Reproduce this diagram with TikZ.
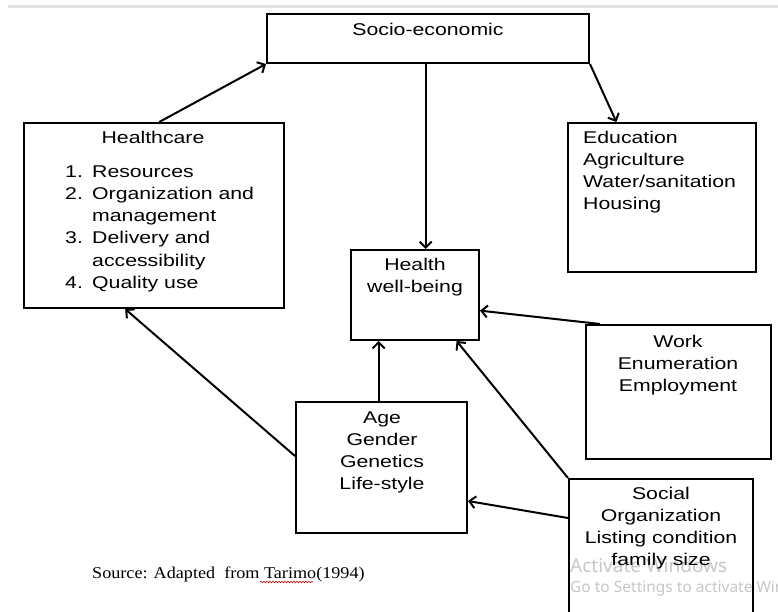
\documentclass[tikz,border=0pt]{standalone}
\usepackage{fontspec}
\setmainfont{Liberation Sans}[FakeStretch=1.25]
\newfontfamily\srcfont{Liberation Serif}[FakeStretch=1.1]
\newfontfamily\wmfont{Noto Sans}
\usetikzlibrary{arrows.meta,calc,fit,decorations.pathmorphing}
\begin{document}
\begin{tikzpicture}[x=1pt,y=-1pt,
  box/.style={draw=black, line width=2pt, inner sep=0pt},
  txt/.style={inner sep=0pt, text=black, font=\fontsize{17}{22.2}\selectfont},
  link/.style={line width=2pt, -{Straight Barb[length=6pt,width=12pt]}},
  wm/.style={inner sep=0pt, anchor=base west, text=black!22},
]
\clip (0,0) rectangle (778,612);
\fill[white] (0,0) rectangle (778,612);
\fill[black!11] (8,5) rectangle (778,8);

% boxes
\node[box, fit={(267,14) (589,63)}] (socio) {};
\node[box, fit={(24,123) (284,308)}] (hc) {};
\node[box, fit={(568,123) (756,272)}] (edu) {};
\node[box, fit={(351,250) (479,340)}] (health) {};
\node[box, fit={(296,402) (467,533)}] (age) {};
\node[box, fit={(586,325) (771,459)}] (work) {};
\node[box, fit={(569,479) (753,640)}] (social) {};

% box texts
\node[txt, anchor=north] (sociot) at (428,19.5) {\begin{tabular}{@{}c@{}}Socio-economic\end{tabular}};
\node[txt, anchor=north] (hct) at (153,127.5) {\begin{tabular}{@{}c@{}}Healthcare\end{tabular}};
\node[txt, anchor=north west] (hclist) at (65,161.5) {\begin{tabular}{@{}l@{}}
  \makebox[27pt][l]{1.}Resources\\
  \makebox[27pt][l]{2.}Organization and\\
  \hspace*{27pt}management\\
  \makebox[27pt][l]{3.}Delivery and\\
  \hspace*{27pt}accessibility\\
  \makebox[27pt][l]{4.}Quality use
\end{tabular}};
\node[txt, anchor=north west] (edut) at (583,127.5) {\begin{tabular}{@{}l@{}}Education\\Agriculture\\Water/sanitation\\Housing\end{tabular}};
\node[txt, anchor=north] (healtht) at (415,254.5) {\begin{tabular}{@{}c@{}}Health\\well-being\end{tabular}};
\node[txt, anchor=north] (aget) at (382,407.5) {\begin{tabular}{@{}c@{}}Age\\Gender\\Genetics\\Life-style\end{tabular}};
\node[txt, anchor=north] (workt) at (678,331.5) {\begin{tabular}{@{}c@{}}Work\\Enumeration\\Employment\end{tabular}};

% system watermark behind the last box text
\node[wm, font=\wmfont\fontsize{19}{22}\selectfont] (wm1) at (570,572) {Activate Windows};
\node[wm, font=\wmfont\fontsize{15.5}{18}\selectfont] (wm2) at (570,592) {Go to Settings to activate Windows.};

\node[txt, anchor=north] (socialt) at (661,483.5) {\begin{tabular}{@{}c@{}}Social\\Organization\\Listing condition\\family size\end{tabular}};

% connectors
\draw[link] ($(hc.north west)!0.52!(hc.north east)$) -- (socio.south west);
\coordinate (hin) at ($(health.north west)!0.582!(health.north east)$);
\draw[link] (hin |- socio.south) -- (hin);
\draw[link] (socio.south east) -- ($(edu.north west)!0.26!(edu.north east)$);
\draw[link] ($(work.north west)!0.08!(work.north east)$) -- ($(health.north east)!0.67!(health.south east)$);
\draw[link] (social.north west) -- ($(health.south west)!0.82!(health.south east)$);
\draw[link] ([yshift=-40pt]social.north west) -- ([yshift=-100pt]age.north east);
\coordinate (hbot) at ($(health.south west)!0.22!(health.south east)$);
\draw[link] (hbot |- age.north) -- (hbot);
\draw[link] ([yshift=-55pt]age.north west) -- ($(hc.south west)!0.39!(hc.south east)$);

% source line
\node[inner sep=0pt, anchor=base west, font=\srcfont\fontsize{16.5}{20}\selectfont] (src) at (92,578) {Source: Adapted\ \ from Tarimo(1994)};
\draw[red!80!black, line width=0.6pt, decorate, decoration={snake, amplitude=0.8pt, segment length=3pt}] (260,582) -- (313,582);
\end{tikzpicture}
\end{document}
